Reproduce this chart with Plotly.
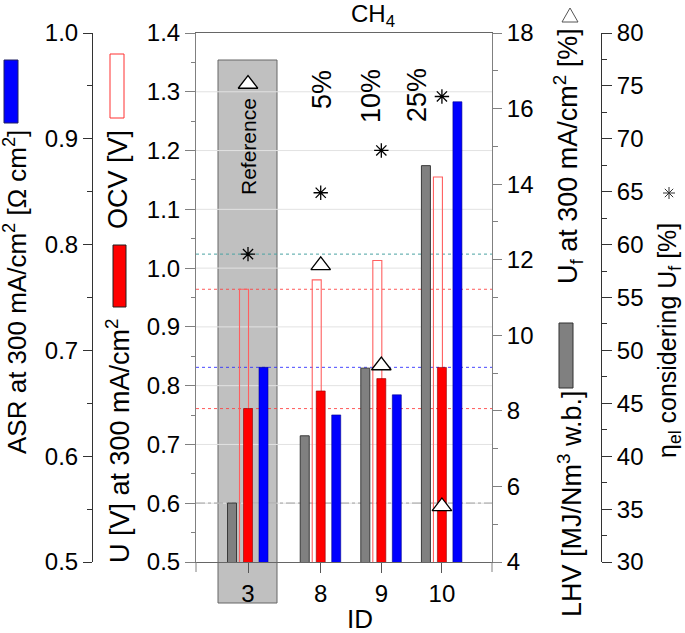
import plotly.graph_objects as go

# ---------------- data ----------------
ids = ["3", "8", "9", "10"]
pct_labels = ["", "5%", "10%", "25%"]
lhv = [5.56, 7.34, 9.13, 14.49]        # LHV [MJ/Nm3 w.b.]
ocv = [0.964, 0.980, 1.013, 1.155]     # OCV [V]
u_cell = [0.761, 0.791, 0.812, 0.831]  # U [V] at 300 mA/cm2
asr = [0.684, 0.639, 0.658, 0.935]     # ASR [Ohm cm2]
uf = [16.65, 11.85, 9.2, 5.47]         # Uf [%]
eta = [59.1, 64.9, 68.9, 74.0]         # eta_el [%]

# ---------------- layout helpers ----------------
W, H = 685, 633
T, B = 33, 562                      # plot top / bottom in px
PL, PR = 196, 492                   # plot left / right in px
PH = B - T
slots = [0, 1.2, 2.2, 3.2]          # category slots (gap after the reference group)
PXU = 60.6                          # px per x unit
XR = [-(248 - PL) / PXU, (PR - 248) / PXU]
U_RANGE = [0.5, 1.4]
FONT = "Liberation Sans, Arial, sans-serif"


def xu(px):
    return px / PXU


def px_x(px):
    return px / W


def px_y(py):
    return (B - py) / PH


bw = xu(9)


def bar(y, yaxis, center_px, fill, line, lw):
    return go.Bar(x=slots, y=y, yaxis=yaxis, width=bw,
                  offset=xu(center_px) - bw / 2,
                  marker=dict(color=fill, line=dict(color=line, width=lw)),
                  showlegend=False, hoverinfo="skip")


fig = go.Figure()
fig.add_trace(bar(ocv, "y", -4, "rgba(0,0,0,0)", "#ff6060", 1.1))
fig.add_trace(bar(u_cell, "y", 0, "#ff0000", "#8a0000", 0.6))
fig.add_trace(bar(asr, "y2", 15.5, "#0000ff", "#00008a", 0.6))
fig.add_trace(bar(lhv, "y3", -16, "#808080", "#3a3a3a", 1))
fig.add_trace(go.Scatter(x=slots, y=uf, yaxis="y3", mode="markers",
                         marker=dict(symbol="triangle-up", size=17, color="white",
                                     line=dict(color="black", width=1.3)),
                         showlegend=False, hoverinfo="skip"))
fig.add_trace(go.Scatter(x=slots, y=eta, yaxis="y4", mode="markers",
                         marker=dict(symbol="asterisk-open", size=12, color="black",
                                     line=dict(color="black", width=1.3)),
                         showlegend=False, hoverinfo="skip"))

shapes = []
# reference shaded box
shapes.append(dict(type="rect", xref="x", yref="paper", layer="below",
                   x0=slots[0] - xu(30), x1=slots[0] + xu(29),
                   y0=px_y(603), y1=px_y(60),
                   fillcolor="#c0c0c0", line=dict(color="#666666", width=1)))
# light grid lines of the U axis (inner ticks only)
for k in range(1, 9):
    g = round(U_RANGE[0] + 0.1 * k, 2)
    shapes.append(dict(type="line", xref="x", yref="y", layer="below",
                       x0=XR[0], x1=XR[1], y0=g, y1=g,
                       line=dict(color="#e2e2e2", width=1)))
# reference lines (values of the reference ID)
for val, yref, col, dash in [
        (ocv[0], "y", "rgba(255,60,60,0.85)", "dot"),
        (u_cell[0], "y", "rgba(255,60,60,0.85)", "dot"),
        (asr[0], "y2", "rgba(40,40,255,0.85)", "dot"),
        (lhv[0], "y3", "#a0a0a0", "dashdot"),
        (eta[0], "y4", "#4aa3a3", "dot")]:
    shapes.append(dict(type="line", xref="x", yref=yref, layer="below",
                       x0=XR[0], x1=XR[1], y0=val, y1=val,
                       line=dict(color=col, width=1, dash=dash)))
# frame extensions below the 0.5 line
for xp in (PL, PR):
    shapes.append(dict(type="line", xref="paper", yref="paper",
                       x0=px_x(xp), x1=px_x(xp), y0=px_y(572), y1=0,
                       line=dict(color="#808080", width=1)))


def rect(x0, x1, y0, y1, fill, line, lw=1):
    return dict(type="rect", xref="paper", yref="paper",
                x0=px_x(x0), x1=px_x(x1), y0=px_y(y1), y1=px_y(y0),
                fillcolor=fill, line=dict(color=line, width=lw))


# legend icons next to the axis titles
shapes.append(rect(4, 18, 60, 123, "#0000ff", "#202060"))
shapes.append(rect(110, 124, 54, 118, "rgba(0,0,0,0)", "#ff3030"))
shapes.append(rect(113, 126, 245, 307, "#ff0000", "#202020"))
shapes.append(rect(559, 573, 323, 388, "#808080", "#303030"))
# triangle icon
tri = [(562, 22), (578, 22), (570, 8)]
shapes.append(dict(type="path", xref="paper", yref="paper",
                   path="M {} {} L {} {} L {} {} Z".format(
                       px_x(tri[0][0]), px_y(tri[0][1]), px_x(tri[1][0]), px_y(tri[1][1]),
                       px_x(tri[2][0]), px_y(tri[2][1])),
                   line=dict(color="#555555", width=1)))
# asterisk icon
cx, cy, r = 669, 193, 6
path = ""
for dx, dy in [(r, 0), (0, r), (r * 0.7, r * 0.7), (r * 0.7, -r * 0.7)]:
    path += "M {} {} L {} {} ".format(px_x(cx - dx), px_y(cy - dy), px_x(cx + dx), px_y(cy + dy))
shapes.append(dict(type="path", xref="paper", yref="paper", path=path,
                   line=dict(color="#333333", width=1)))

annotations = []


def ann(text, x, y, size, angle=0, xanchor="center", yanchor="middle", xref="paper"):
    annotations.append(dict(text=text, x=x, y=y, xref=xref, yref="paper",
                            textangle=angle, showarrow=False,
                            xanchor=xanchor, yanchor=yanchor,
                            font=dict(family=FONT, size=size, color="black")))


TF = 27
ann("ASR at 300 mA/cm<sup>2</sup> [Ω cm<sup>2</sup>]", px_x(15), px_y(292), 26, -90)
ann("OCV [V]", px_x(118), px_y(180), TF, -90)
ann("U [V] at 300 mA/cm<sup>2</sup>", px_x(118), px_y(441), TF, -90)
ann("U<sub>f</sub> at 300 mA/cm<sup>2</sup> [%]", px_x(568), px_y(156), TF, -90)
ann("LHV [MJ/Nm<sup>3</sup> w.b.]", px_x(570), px_y(504), TF, -90)
ann("η<sub>el</sub> considering U<sub>f</sub> [%]", px_x(669), px_y(341), 25, -90)
ann("CH<sub>4</sub>", px_x(373), px_y(16), 24)
ann("ID", px_x(360), px_y(619), 26)
ann("Reference", slots[0], px_y(146), 21, -90, xref="x")
for lab, xp, yp in zip(pct_labels[1:], [322, 371, 417], [90, 96, 95]):
    ann(lab, px_x(xp), px_y(yp), 27, -90)

tickfont = dict(family=FONT, size=24, color="black")
fig.update_layout(
    width=W, height=H, autosize=False,
    margin=dict(l=0, r=0, t=T, b=H - B, pad=0),
    paper_bgcolor="white", plot_bgcolor="white",
    barmode="overlay", showlegend=False,
    shapes=shapes, annotations=annotations,
    xaxis=dict(domain=[px_x(PL), px_x(PR)], range=XR,
               tickvals=slots, ticktext=ids, ticks="outside", ticklen=10,
               tickcolor="#555555", showline=True, linecolor="#666666", linewidth=1,
               mirror=True, showgrid=False, zeroline=False, tickfont=tickfont),
    yaxis=dict(range=U_RANGE, anchor="x", side="left", tick0=0.5, dtick=0.1,
               tickformat=".1f", ticks="outside", ticklen=10, tickcolor="#808080",
               showline=True, linecolor="#808080", linewidth=1,
               showgrid=False, zeroline=False,
               minor=dict(dtick=0.05, tick0=0.5, ticks="outside", ticklen=4,
                          tickcolor="#808080", showgrid=False),
               tickfont=tickfont),
    yaxis2=dict(range=[0.5, 1.0], overlaying="y", anchor="free", position=px_x(92),
                side="left", tick0=0.5, dtick=0.1, tickformat=".1f",
                ticks="outside", ticklen=9, tickcolor="#333333",
                showline=True, linecolor="#333333", linewidth=1,
                showgrid=False, zeroline=False,
                minor=dict(dtick=0.05, tick0=0.5, ticks="outside", ticklen=5,
                           tickcolor="#333333", showgrid=False),
                tickfont=tickfont),
    yaxis3=dict(range=[4, 18], overlaying="y", anchor="x", side="right",
                tick0=4, dtick=2, ticks="outside", ticklen=9, tickcolor="#808080",
                showline=True, linecolor="#808080", linewidth=1,
                showgrid=False, zeroline=False,
                minor=dict(dtick=1, tick0=4, ticks="outside", ticklen=5,
                           tickcolor="#808080", showgrid=False),
                tickfont=tickfont),
    yaxis4=dict(range=[30, 80], overlaying="y", anchor="free", position=px_x(601),
                side="right", tick0=30, dtick=5, ticks="outside", ticklen=10,
                tickcolor="#333333", showline=True, linecolor="#333333", linewidth=1,
                showgrid=False, zeroline=False,
                minor=dict(dtick=2.5, tick0=30, ticks="outside", ticklen=5,
                           tickcolor="#333333", showgrid=False),
                tickfont=tickfont),
)

# remove the default 8px page margin so the figure sits at the window origin
fig.write_html("out.html", config={"displayModeBar": False},
               post_script="document.body.style.margin='0';")
